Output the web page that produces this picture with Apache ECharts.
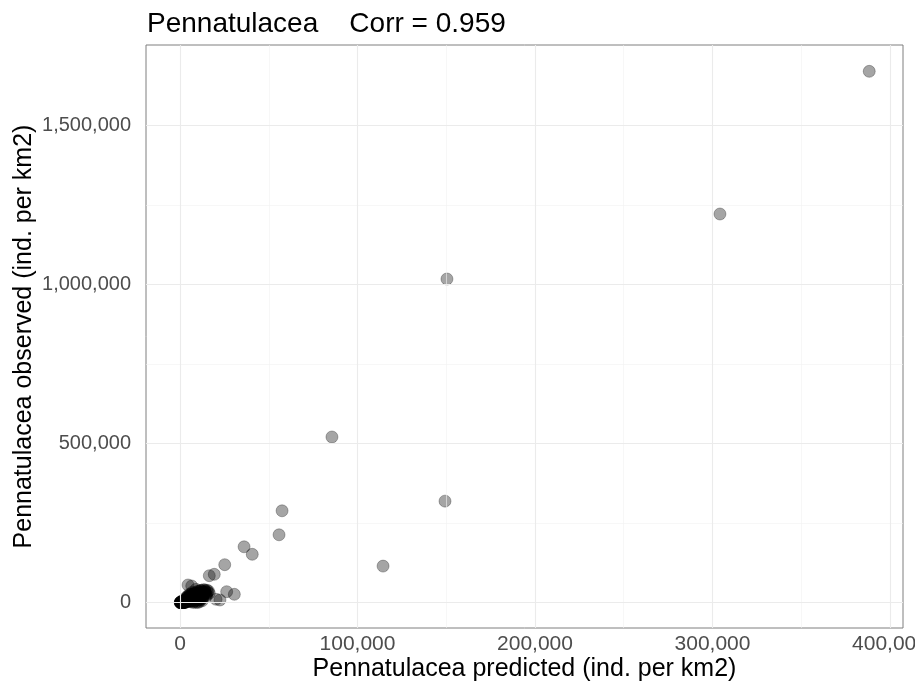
<!DOCTYPE html>
<html>
<head>
<meta charset="utf-8">
<script src="https://cdn.jsdelivr.net/npm/echarts@6/dist/echarts.min.js"></script>
<style>
  html, body { margin: 0; padding: 0; background: #fff; }
  #chart { width: 915px; height: 688px; }
</style>
</head>
<body>
<div id="chart"></div>
<script>
// Predicted vs observed Pennatulacea density (ind. per km2)
const predicted = [
  388300, 304200, 150400, 85600, 149300, 57500, 55800, 36100, 40700, 114400,
  25200, 19300, 16500, 6600, 26300, 30600, 20300, 22500, 4500,
  120, 250, 400, 600, 800, 150, 950, 1100, 1300, 1500,
  1700, 1900, 2100, 2300, 2500, 2700, 2900, 300, 500, 700,
  900, 1200, 1400, 1600, 1800, 2000, 2200, 2400, 2600, 2800,
  3000, 350, 650, 1050, 1350, 1650, 1950, 2250, 2550, 2850,
  3200, 3400, 3600, 3800, 4000, 4200, 4400, 4600, 4800, 5000,
  5300, 5600, 5900, 6200, 6500, 6800, 7100, 7400, 7700, 8000,
  8300, 8600, 8900, 9200, 9500, 9800, 3500, 4500, 5500, 7000,
  10200, 10500, 10800, 11200, 11600, 12000, 12400, 12800, 13300, 13800,
  14300, 14800, 15200, 9000, 11000, 9000, 11000, 12500, 7500, 10000,
  2000, 2500, 3000, 3500, 4000, 4500, 5000, 5500, 6000, 6500,
  7000, 7500, 8000, 8500, 9000, 9500, 10000, 10500, 11000, 11500,
  12000, 12500, 13000, 13500, 14000, 3000, 5000, 7000, 9000, 11000,
  13000, 6000, 8000, 10000, 4000, 12000, 14500, 6000, 8000, 10000,
  15500, 16000, 14000, 12000, 13000, 15000, 11000, 16500
];
const observed = [
  1671000, 1222300, 1017900, 521100, 319400, 289000, 213500, 175800, 152200, 115100,
  119500, 89300, 84900, 52500, 34600, 26400, 10700, 8500, 55700,
  80, 150, 300, 200, 500, 900, 1200, 400, 2100, 800,
  1500, 3200, 1000, 2600, 600, 4100, 1800, 2200, 3400, 1600,
  2900, 3800, 5200, 2400, 600, 4500, 300, 5900, 3000, 2200,
  6500, 450, 1100, 700, 1250, 300, 2050, 1500, 3700, 900,
  4800, 9000, 2500, 12000, 6200, 15000, 3600, 8400, 18000, 5100,
  11000, 21000, 7300, 14500, 4200, 25000, 9800, 17500, 12600, 28000,
  6000, 20000, 15500, 31000, 10500, 23000, 16000, 22000, 27000, 33000,
  18000, 35000, 26000, 12000, 38000, 22000, 30000, 16000, 41000, 27000,
  34000, 20000, 39000, 42000, 8000, 1500, 3000, 6000, 500, 500,
  5000, 7000, 9000, 7500, 11000, 13000, 10000, 16000, 14000, 19000,
  17000, 22000, 20000, 25000, 23000, 28000, 26000, 30000, 22000, 32000,
  28000, 35000, 24000, 30000, 36000, 3500, 6000, 8000, 12000, 15000,
  18000, 26000, 31000, 36000, 18000, 10000, 28000, 3000, 4500, 7000,
  33000, 37000, 40000, 39000, 33000, 25000, 27000, 30000
];

// axis breaks and gridlines
const xTicks = [0, 100000, 200000, 300000, 400000];
const xMinor = [50000, 150000, 250000, 350000];
const yTicks = [0, 500000, 1000000, 1500000];
const yMinor = [250000, 750000, 1250000];

const points = predicted.map((p, i) => [p, observed[i]]);
const fmt = v => Math.round(v).toLocaleString('en-US');

const major = { color: '#ebebeb', width: 1.1, type: 'solid' };
const minor = { color: '#f2f2f2', width: 0.6, type: 'solid' };
const gridLines = []
  .concat(xMinor.map(v => ({ xAxis: v, lineStyle: minor })))
  .concat(yMinor.map(v => ({ yAxis: v, lineStyle: minor })))
  .concat(xTicks.map(v => ({ xAxis: v, lineStyle: major })))
  .concat(yTicks.map(v => ({ yAxis: v, lineStyle: major })));

const font = '"Liberation Sans", Arial, sans-serif';
const chart = echarts.init(document.getElementById('chart'), null, { renderer: 'canvas' });

chart.setOption({
  animation: false,
  backgroundColor: '#ffffff',
  title: {
    text: 'Pennatulacea    Corr = 0.959',
    left: 142,
    top: 5,
    textStyle: { fontFamily: font, fontSize: 28, fontWeight: 'normal', color: '#000' }
  },
  grid: {
    left: 146, top: 45, right: 12, bottom: 60,
    outerBoundsMode: 'none',
    containLabel: false,
    show: true, borderColor: '#7f7f7f', borderWidth: 1, backgroundColor: '#fff'
  },
  xAxis: {
    type: 'value',
    min: -19155,
    max: 407324,
    name: 'Pennatulacea predicted (ind. per km2)',
    nameLocation: 'middle',
    nameGap: 29,
    nameMoveOverlap: false,
    nameTextStyle: { fontFamily: font, fontSize: 25, color: '#000' },
    axisLine: { show: false },
    splitLine: { show: false },
    axisTick: { show: true, customValues: xTicks, length: 5, lineStyle: { color: '#333', width: 1 } },
    axisLabel: { customValues: xTicks, formatter: fmt, color: '#4d4d4d', fontFamily: font, fontSize: 21, margin: 6 }
  },
  yAxis: {
    type: 'value',
    min: -79560,
    max: 1753774,
    name: 'Pennatulacea observed (ind. per km2)',
    nameLocation: 'middle',
    nameGap: 109,
    nameMoveOverlap: false,
    nameTextStyle: { fontFamily: font, fontSize: 25, color: '#000' },
    axisLine: { show: false },
    splitLine: { show: false },
    axisTick: { show: true, customValues: yTicks, length: 6, lineStyle: { color: '#333', width: 1 } },
    axisLabel: { customValues: yTicks, formatter: fmt, color: '#4d4d4d', fontFamily: font, fontSize: 20, margin: 15 }
  },
  series: [
    {
      type: 'scatter',
      data: [],
      silent: true,
      z: 1,
      markLine: {
        silent: true,
        symbol: 'none',
        label: { show: false },
        animation: false,
        data: gridLines
      }
    },
    {
      type: 'scatter',
      data: points,
      z: 3,
      symbol: 'circle',
      symbolSize: 12,
      itemStyle: { color: 'rgba(0,0,0,0.44)', borderColor: 'rgba(0,0,0,0.44)', borderWidth: 0.8 }
    }
  ]
});
</script>
</body>
</html>
